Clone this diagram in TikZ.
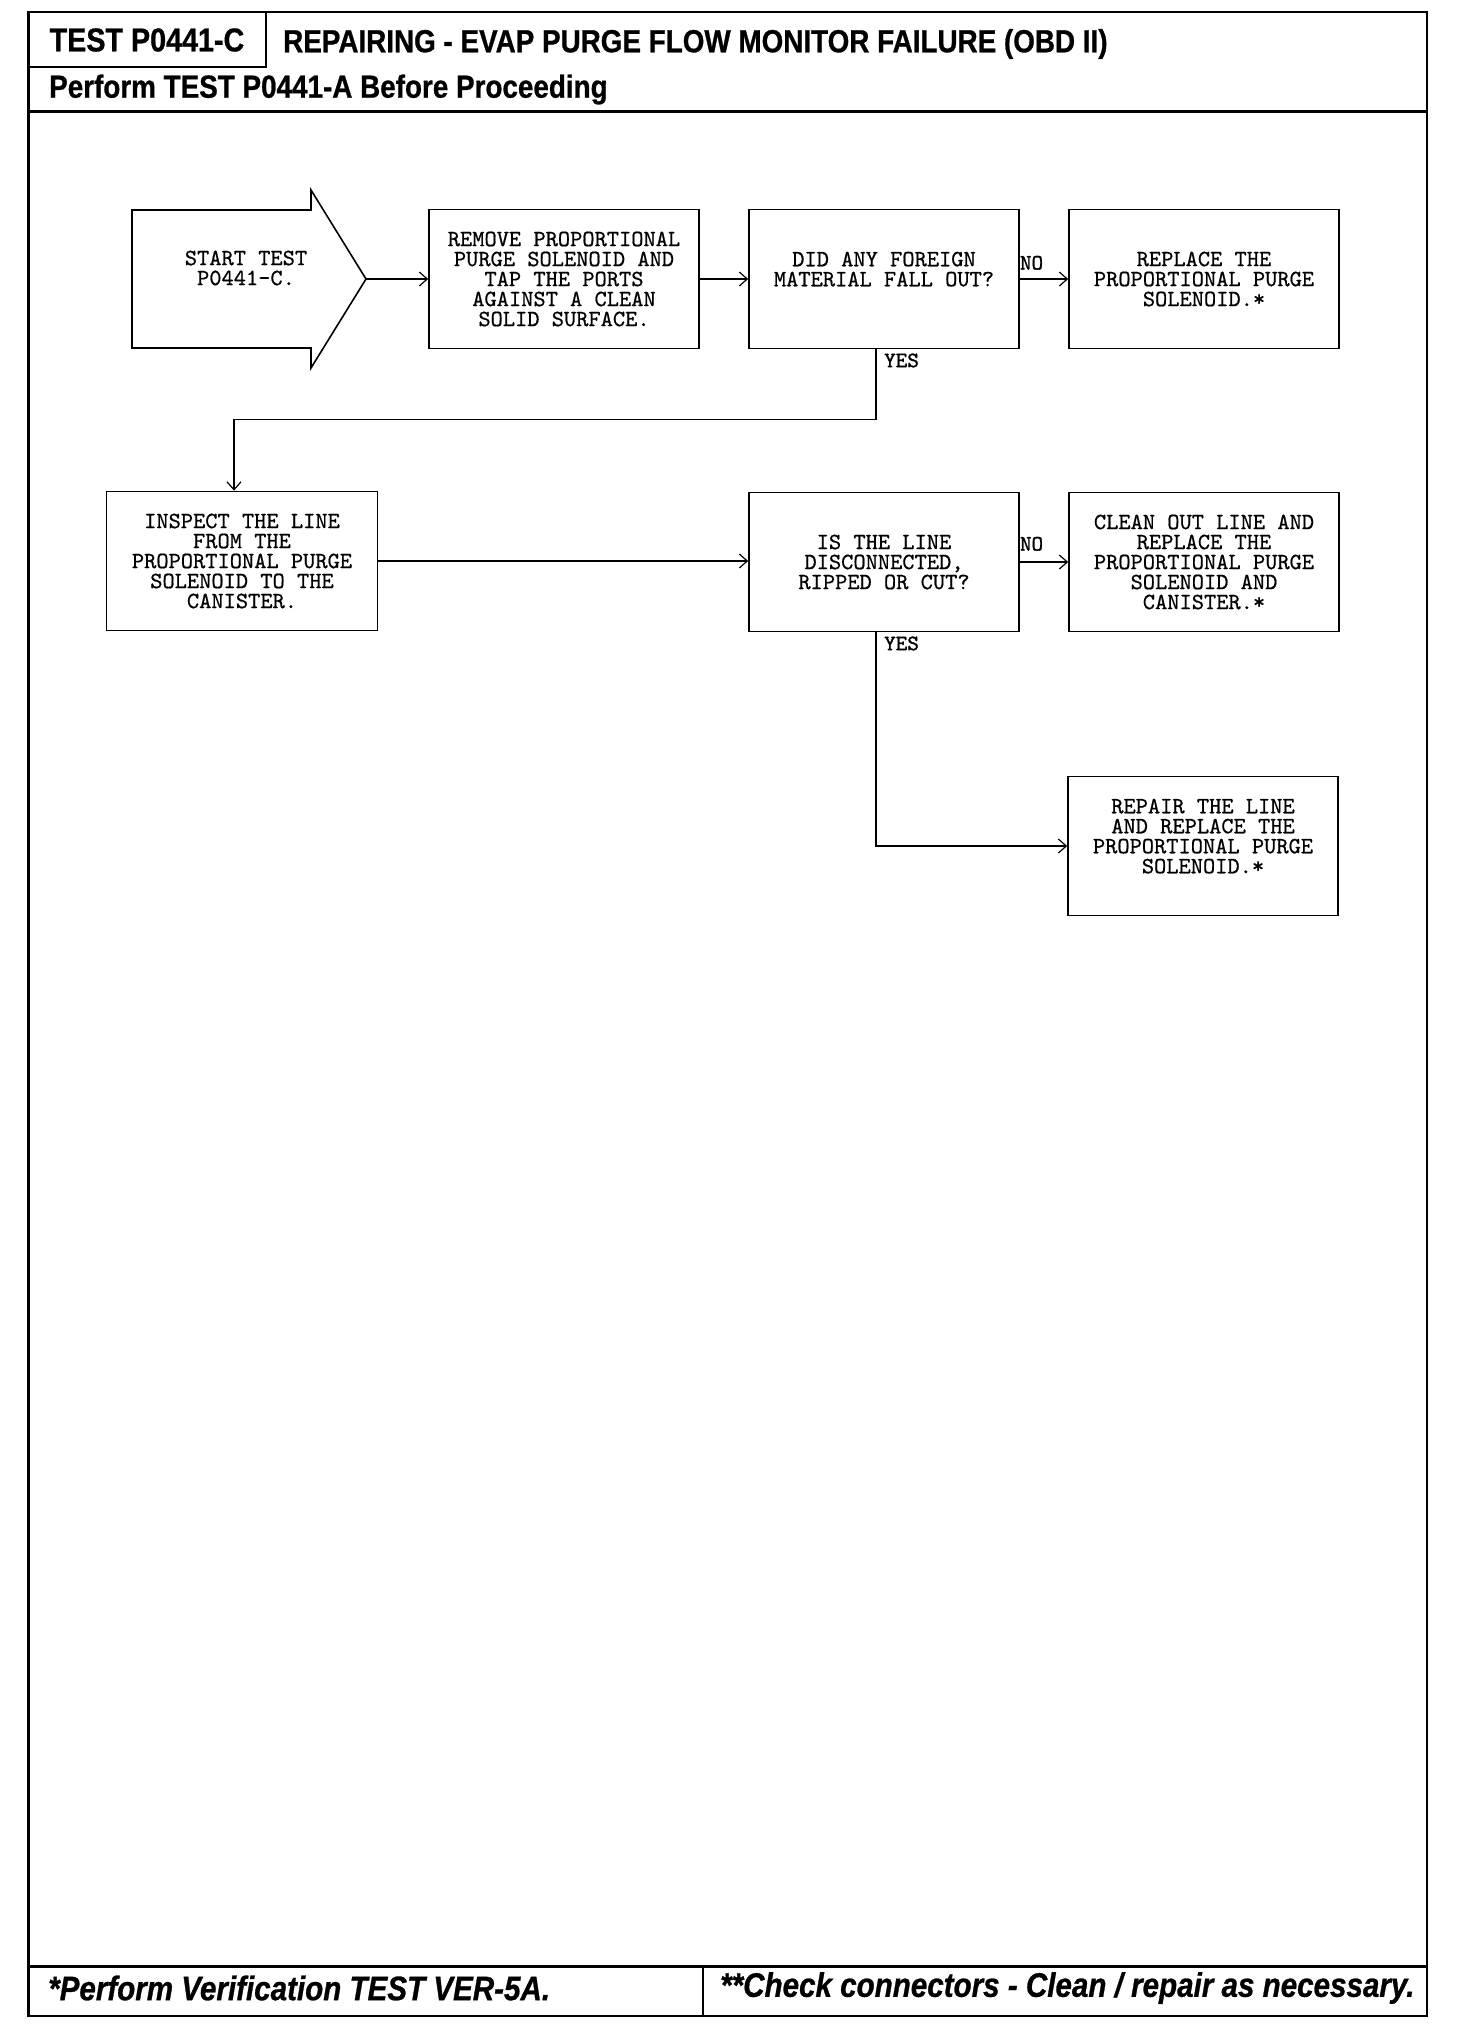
\documentclass[tikz,border=0pt]{standalone}
\usepackage{fontspec}
\setmainfont{Liberation Sans}
\newfontfamily\headfont[FakeStretch=0.87, FakeBold=0.8]{Liberation Sans}
\newfontfamily\boxfont[FakeBold=0.6]{lmmono10-regular.otf}
\newfontfamily\labfont[FakeBold=1.4]{lmmono10-regular.otf}
\usetikzlibrary{arrows.meta}

\begin{document}
\begin{tikzpicture}[x=1pt, y=-1pt,
  steptext/.style={align=center, inner sep=0pt, font=\boxfont\fontsize{23.3}{20}\selectfont},
  stepbox/.style={steptext, draw, line width=1.6pt, minimum width=270pt, minimum height=139pt},
  flow/.style={line width=1.2pt, -{Straight Barb[length=8pt, width=14pt]}},
  answer/.style={inner sep=0pt, font=\labfont\fontsize{22}{22}\selectfont},
  headtext/.style={inner sep=0pt, font=\headfont\bfseries\fontsize{32}{34}\selectfont},
  foottext/.style={inner sep=0pt, font=\headfont\bfseries\itshape\fontsize{34}{35}\selectfont}]

  \useasboundingbox (0,0) rectangle (1456,2034);

  % Page frame and header
  \draw[line width=2.4pt] (28.5,12) rectangle (1427,2016);
  \draw[line width=2pt] (266,12) -- (266,67.5) -- (28.5,67.5);
  \draw[line width=3pt] (28.5,111.5) -- (1427,111.5);
  \node[headtext, font=\headfont\bfseries\fontsize{33}{34}\selectfont] (testid) at (147,40) {TEST P0441-C};
  \node[headtext, anchor=west] (title) at (283,44) {REPAIRING - EVAP PURGE FLOW MONITOR FAILURE (OBD II)};
  \node[headtext, anchor=west] (before) at (49,89.5) {Perform TEST P0441-A Before Proceeding};

  % Footer
  \draw[line width=3pt] (28.5,1966) -- (1427,1966);
  \draw[line width=2pt] (703,1966) -- (703,2016);
  \node[foottext, anchor=west] (verify) at (48,1988) {*Perform Verification TEST VER-5A.};
  \node[foottext, anchor=west] (connectors) at (720,1988) {**Check connectors - Clean / repair as necessary.};

  % Start arrow
  \draw[line width=1.6pt] (132,210) -- (311,210) -- (311,190) -- (366,279)
    -- (311,368) -- (311,348) -- (132,348) -- cycle;
  \coordinate (tip) at (366,279);
  \node[steptext] (start) at (246,268) {START TEST\\P0441-C.};

  % First row
  \node[stepbox] (remove) at (564,279) {REMOVE PROPORTIONAL\\PURGE SOLENOID AND\\TAP THE PORTS\\AGAINST A CLEAN\\SOLID SURFACE.};
  \node[stepbox] (foreign) at (884,279) {DID ANY FOREIGN\\MATERIAL FALL OUT?\\~};
  \node[stepbox] (replace) at (1204,279) {REPLACE THE\\PROPORTIONAL PURGE\\SOLENOID.*};

  % Second row
  \node[stepbox, minimum width=271pt] (inspect) at (242,561) {INSPECT THE LINE\\FROM THE\\PROPORTIONAL PURGE\\SOLENOID TO THE\\CANISTER.};
  \node[stepbox] (linecut) at (884,562) {IS THE LINE\\DISCONNECTED,\\RIPPED OR CUT?};
  \node[stepbox] (cleanout) at (1204,562) {CLEAN OUT LINE AND\\REPLACE THE\\PROPORTIONAL PURGE\\SOLENOID AND\\CANISTER.*};
  \node[stepbox] (repair) at (1203,846) {REPAIR THE LINE\\AND REPLACE THE\\PROPORTIONAL PURGE\\SOLENOID.*\\~};

  % Connectors
  \draw[flow] (tip) -- (remove.west);
  \draw[flow] (remove.east) -- (foreign.west);
  \draw[flow] (foreign.east) -- (replace.west);
  \node[answer, anchor=south west] (no1) at ([yshift=9pt]foreign.east) {NO};
  \draw[flow] ([xshift=-8pt]foreign.south) -- ++(0,70) -| ([xshift=-8pt]inspect.north);
  \node[answer, anchor=north west] (yes1) at ([yshift=-4pt]foreign.south) {YES};
  \draw[flow] (inspect.east) -- (inspect.east -| linecut.west);
  \draw[flow] (linecut.east) -- (cleanout.west);
  \node[answer, anchor=south west] (no2) at ([yshift=11pt]linecut.east) {NO};
  \draw[flow] ([xshift=-8pt]linecut.south) |- (repair.west);
  \node[answer, anchor=north west] (yes2) at ([yshift=-4pt]linecut.south) {YES};

\end{tikzpicture}
\end{document}
